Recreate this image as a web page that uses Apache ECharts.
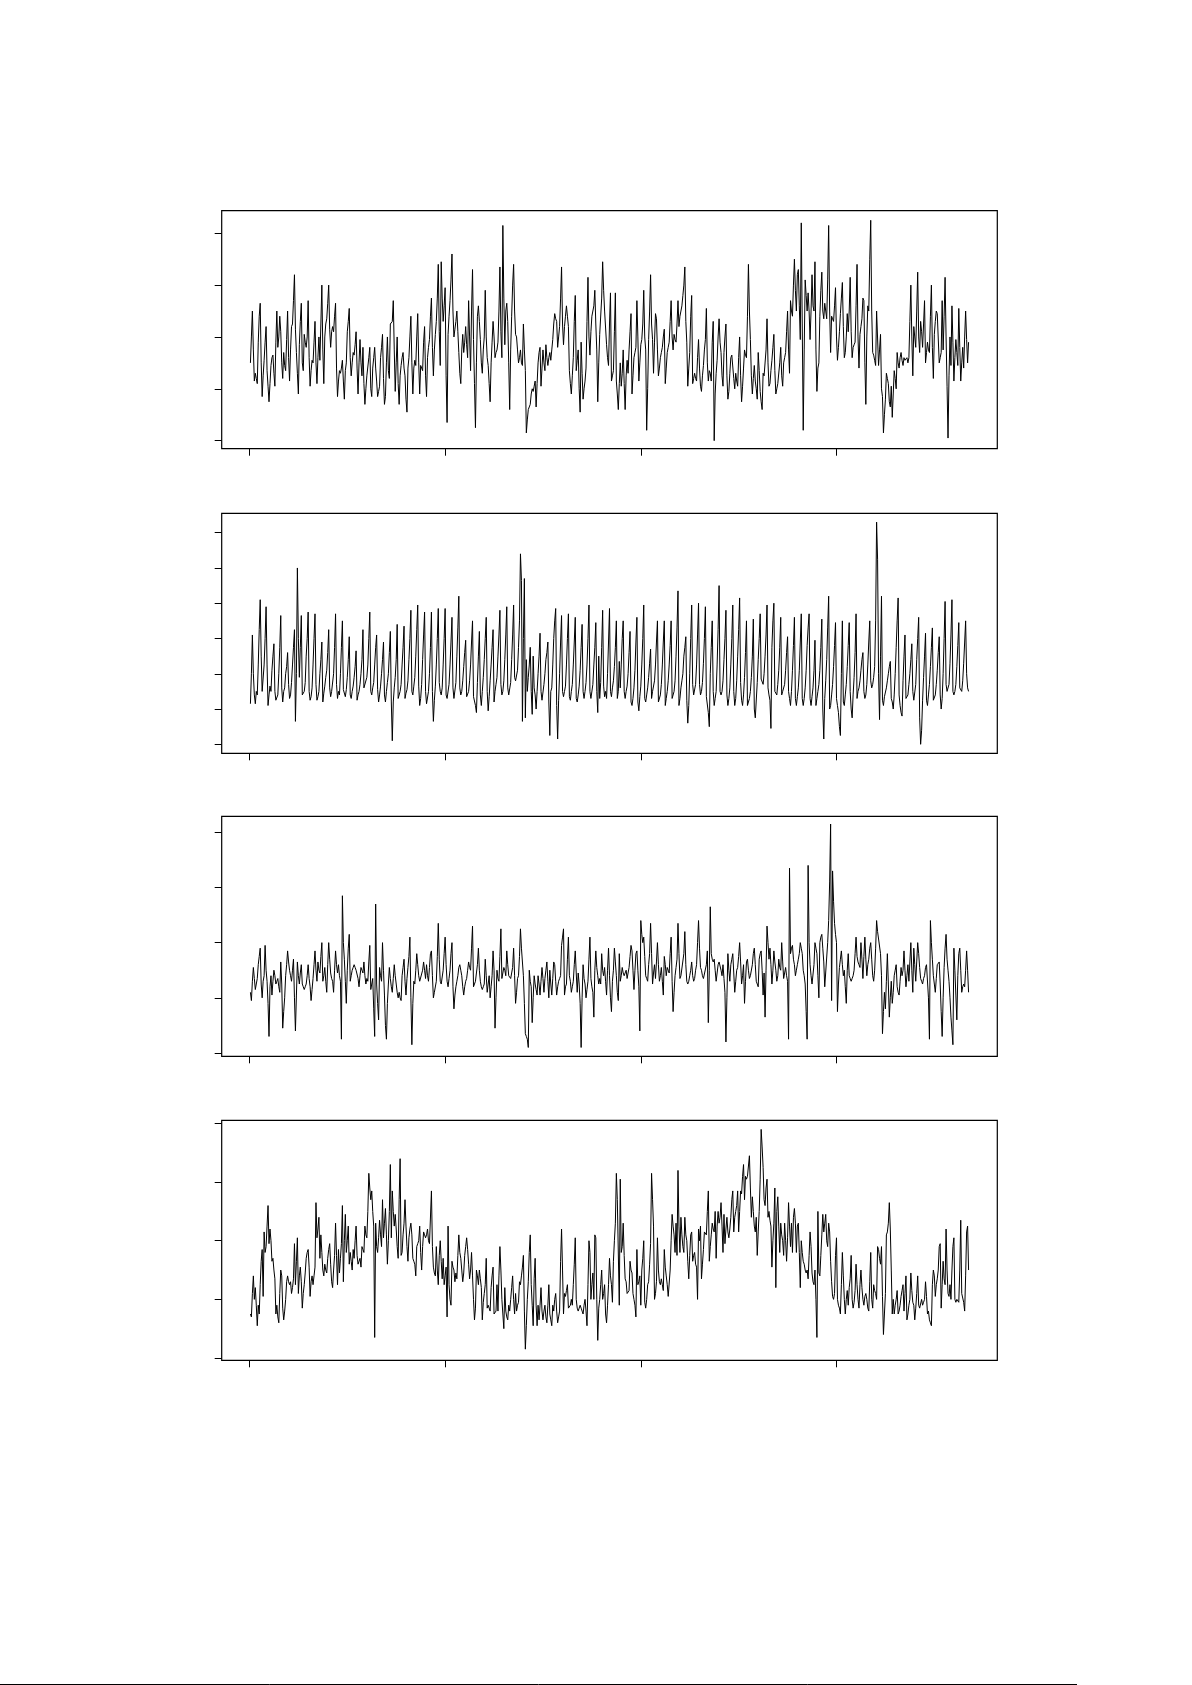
<!DOCTYPE html>
<html>
<head>
<meta charset="utf-8">
<script src="https://cdn.jsdelivr.net/npm/echarts@6.0.0/dist/echarts.min.js"></script>
<style>
html,body{margin:0;padding:0;background:#fff;}
#chart{width:1192px;height:1685px;}
</style>
</head>
<body>
<div id="chart"></div>
<script>
// x: day index 1..735, ticks (unlabelled) at 0,200,400,600
const xTicks = [0, 200, 400, 600];
const ticks1 = [20, 40, 60, 80, 100];
const ticks2 = [0, 20, 40, 60, 80, 100, 120];
const ticks3 = [0, 20, 40, 60, 80];
const ticks4 = [0, 20, 40, 60, 80];

const series1 = [
50,60,70,55,43,46,44,42,58,68, 73,50,37,45,51,58,64,47,41,35, 42,49,52,53,46,41,58,70,56,60,
68,62,50,44,54,49,47,59,70,52, 43,55,64,65,74,84,63,54,46,38, 57,66,73,50,47,61,58,56,60,74,
52,41,47,51,50,58,66,50,42,52, 60,51,65,80,55,42,60,65,67,73, 80,63,56,62,64,62,68,73,48,37,
43,47,46,48,51,43,36,47,50,62, 66,71,52,45,50,54,53,57,62,48, 38,50,59,50,45,56,42,34,40,45,
45,52,56,40,37,48,52,56,48,43, 37,39,41,52,56,61,44,34,37,50, 60,47,44,65,65,66,74,55,39,50,
60,42,34,45,49,52,54,48,45,36, 31,48,52,60,68,50,38,48,51,49, 60,69,50,38,49,48,47,58,64,45,
37,52,56,59,68,75,56,45,55,61, 66,75,88,62,49,89,75,66,72,79, 45,27,61,68,74,82,92,70,60,63,
66,70,62,54,46,42,55,61,54,58, 64,57,52,74,60,47,70,86,59,42, 25,50,68,72,66,59,50,46,55,60,
78,60,52,49,42,35,50,58,66,60, 52,54,55,58,70,87,62,52,103,75, 57,70,73,66,50,32,55,68,80,88,
70,61,60,55,50,52,55,50,49,65, 55,47,23,28,32,33,34,38,40,39, 41,43,33,42,50,54,56,41,48,55,
50,47,57,52,49,52,54,51,55,59, 65,69,67,66,56,60,64,75,87,65, 57,64,68,72,68,64,47,42,38,45,
52,66,76,47,51,55,40,31,58,46, 36,40,43,48,66,83,60,53,62,68, 68,72,78,65,55,35,50,61,61,75,
89,78,70,70,57,52,49,65,77,43, 45,47,62,77,43,38,32,42,50,41, 46,55,42,32,45,51,46,55,62,69,
38,45,52,54,56,74,60,43,50,57, 59,65,78,60,55,24,40,59,70,84, 65,59,46,58,69,67,55,45,48,52,
54,56,60,63,42,48,54,56,58,66, 74,60,55,61,59,58,65,74,64,68, 70,72,76,80,87,66,58,41,48,54,
68,76,42,44,46,44,43,52,59,48, 41,39,45,49,55,59,71,50,43,47, 46,43,58,66,20,38,46,51,60,67,
58,54,45,41,54,60,65,45,36,39, 46,52,53,53,44,40,46,43,41,52, 60,45,35,41,48,55,53,52,68,88,
70,59,45,38,44,49,43,40,36,54, 47,39,35,32,46,45,45,55,67,50, 41,42,47,51,56,61,47,38,40,42,
42,50,56,45,41,50,52,54,62,70, 55,46,74,70,68,80,90,78,70,84, 86,72,59,104,65,24,55,82,76,70,
77,70,59,70,84,72,70,89,55,39, 48,50,68,78,85,70,67,73,70,67, 82,103,70,54,68,67,66,72,79,60,
51,56,62,69,75,81,64,52,54,60, 69,62,70,83,62,52,56,57,58,72, 88,60,48,61,64,67,75,74,50,34,
60,72,70,90,105,70,54,53,51,49, 70,70,49,55,61,40,37,23,30,36, 46,44,42,35,33,41,29,38,47,44,
40,54,50,48,52,54,51,49,52,51, 51,52,50,52,66,80,60,45,64,60, 56,70,85,60,54,66,62,56,65,74,
50,54,58,55,54,68,80,56,44,61, 66,70,69,69,50,52,54,74,55,68, 83,60,41,21,45,60,49,72,58,43,
52,59,54,49,71,56,43,50,56,48, 60,70,59,50,58
];

const series2 = [
23,40,62,40,28,23,30,28,45,65, 82,50,30,29,45,60,78,45,22,28, 33,30,42,50,57,30,25,25,28,40,
55,73,32,24,30,32,40,44,52,34, 26,28,35,45,55,65,13,40,100,60, 38,55,73,28,27,30,35,50,60,75,
30,25,27,32,45,60,74,34,25,27, 30,40,48,58,24,29,33,38,42,52, 65,32,27,30,31,40,55,74,34,26,
30,28,40,55,70,31,30,27,31,38, 48,61,28,26,30,33,38,44,53,25, 28,30,34,40,48,65,32,31,33,38,
45,60,75,30,28,32,35,45,55,62, 31,24,28,33,40,48,58,28,24,30, 35,40,52,64,24,2,24,32,38,48,
68,26,27,30,34,45,55,67,26,29, 31,36,48,60,76,30,28,33,38,50, 65,79,33,22,26,34,48,62,75,30,
23,24,30,40,55,75,30,13,25,33, 45,60,77,35,30,28,32,45,60,77, 28,26,27,34,45,58,72,32,26,27,
35,50,66,84,32,28,30,36,44,52, 59,27,26,30,36,45,58,70,27,26, 22,18,35,50,64,28,22,30,38,48,
60,72,30,19,27,36,45,55,65,24, 30,34,38,50,62,76,34,28,30,36, 48,62,78,32,28,29,35,48,62,79,
38,36,35,42,55,70,108,93,13,60, 94,15,48,30,38,45,55,30,17,50, 32,28,20,30,40,50,63,30,25,26,
34,40,48,52,58,24,5,30,32,45, 60,70,77,22,3,25,40,58,73,30, 27,30,33,45,60,74,27,25,30,34,
45,58,72,26,24,28,33,42,55,68, 30,26,30,35,45,60,79,30,26,27, 34,45,55,69,30,18,50,26,35,55,
76,33,27,30,26,40,58,77,30,27, 32,36,44,55,70,26,30,47,32,45, 60,70,30,26,30,33,40,52,64,24,
22,26,32,42,58,72,24,19,27,33, 45,60,79,26,24,28,32,38,46,54, 26,30,31,36,45,58,70,24,25,28,
34,45,58,70,22,26,30,36,45,56, 70,26,27,30,36,50,66,87,22,26, 32,36,40,50,55,61,25,12,22,40,
60,79,34,28,27,34,45,62,80,34, 28,30,35,46,60,78,27,28,18,10, 40,55,70,30,22,26,30,45,65,90,
30,28,30,36,48,60,76,28,22,26, 32,45,60,79,30,22,26,36,50,65, 83,35,25,22,28,38,52,70,22,22,
26,30,38,50,71,20,15,14,35,48, 60,74,37,36,34,40,50,62,79,32, 28,25,9,55,70,80,30,29,28,34,
42,55,72,28,30,29,34,42,52,61, 30,26,22,30,42,56,72,26,22,27, 32,42,58,74,26,22,26,32,42,56,
66,74,26,22,27,32,42,59,22,26, 30,34,42,55,71,20,3,26,36,48, 66,84,20,22,28,34,44,56,69,26,
22,18,10,5,40,70,24,22,28,34, 44,56,69,30,20,15,28,38,52,74, 26,30,32,36,42,48,52,30,26,28,
34,45,58,70,36,32,34,38,44,70, 126,105,40,14,50,84,25,22,27,28, 32,36,40,44,47,26,24,20,28,40,
55,70,83,28,22,18,16,36,50,62, 26,25,28,34,40,48,57,30,25,26, 34,48,60,72,15,0,8,25,38,50,
63,25,22,28,34,44,55,66,25,26, 28,34,42,52,61,28,20,26,40,60, 81,34,30,30,34,46,62,82,30,28,
30,34,44,56,69,32,32,30,36,46, 58,70,40,32,30
];

const series3 = [
22,19,26,31,27,23,25,27,32,35, 38,25,20,26,28,39,30,26,18,6, 24,28,21,26,30,28,25,26,27,24,
22,33,25,9,15,20,28,32,37,33, 30,28,26,30,34,20,8,21,33,28, 25,29,32,25,24,23,24,25,28,32,
27,24,19,23,27,32,37,30,26,33, 30,29,35,40,26,28,31,26,22,32, 40,34,29,27,26,22,30,37,32,29,
32,28,26,5,57,40,34,26,18,30, 38,43,26,28,30,31,32,31,30,30, 27,24,28,31,30,29,33,28,25,27,
26,33,39,23,25,27,16,6,54,25, 18,12,31,28,26,40,30,21,10,5, 18,25,31,27,24,22,27,32,28,25,
22,20,22,20,19,28,31,34,26,21, 27,31,35,42,20,3,18,26,25,30, 36,32,28,26,26,26,30,33,30,27,
32,28,26,31,36,37,28,20,22,22, 26,35,47,34,26,25,25,30,36,42, 32,26,24,27,30,36,40,24,16,21,
24,26,28,31,32,30,28,24,21,24, 26,27,30,33,31,30,38,46,24,25, 26,29,32,38,30,26,24,23,24,25,
34,28,22,25,28,20,24,28,37,30, 9,20,30,27,26,35,45,27,29,31, 30,28,37,32,28,28,27,29,31,38,
28,18,22,27,28,35,45,38,38,28, 18,7,6,5,2,30,26,24,11,20, 28,25,23,21,28,25,21,26,31,27,
22,27,30,33,26,20,30,25,21,27, 33,32,26,21,24,26,27,28,39,42, 45,21,24,25,34,42,28,26,22,24,
26,32,37,29,22,29,25,18,2,20, 32,27,25,20,23,26,34,42,27,24, 22,13,30,37,31,28,25,27,25,36,
30,28,31,26,21,30,38,28,20,15, 26,30,38,33,28,22,19,36,26,28, 31,29,28,29,30,27,29,31,35,39,
37,30,23,30,36,37,30,24,8,48, 43,40,42,35,28,27,26,32,36,47, 36,25,29,32,27,33,40,32,26,28,
31,26,21,35,32,28,31,30,29,36, 42,26,15,22,28,31,34,47,36,27, 28,28,28,36,44,32,26,25,26,28,
30,33,28,26,27,30,32,40,48,38, 31,30,28,27,27,27,32,37,11,30, 53,36,34,33,34,30,26,29,32,33,
33,30,28,32,27,22,4,20,36,30, 26,32,34,36,29,22,26,30,31,35, 40,33,25,28,32,18,26,33,34,30,
27,28,28,32,36,38,32,26,25,24, 34,36,37,30,21,29,13,30,46,40, 34,38,32,25,30,37,33,30,26,28,
34,31,30,40,33,27,29,31,28,26, 5,67,36,38,39,34,32,28,30,32, 34,36,40,38,36,30,28,25,15,5,
68,40,32,28,25,25,32,40,38,36, 28,20,40,42,43,38,33,24,24,24, 40,48,62,83,19,66,55,47,43,40,
15,25,31,34,37,32,28,30,24,18, 30,36,28,27,26,27,28,30,36,42, 35,33,32,31,40,34,27,35,42,34,
28,32,34,38,40,34,28,26,30,38, 48,44,44,44,36,28,7,15,22,16, 26,36,25,13,20,26,18,22,28,30,
32,24,22,21,26,31,28,30,37,30, 24,28,32,26,33,40,30,22,38,32, 26,33,40,36,31,27,26,25,27,28,
31,32,32,20,5,48,40,34,28,25, 22,27,32,32,33,25,15,6,20,31, 38,43,34,30,26,20,13,8,3,38,
30,21,12,28,36,38,30,22,24,25, 24,30,37,30,22
];

const series4 = [
15,14,22,28,20,24,18,11,18,15, 25,33,37,21,43,36,38,45,52,39, 44,40,33,34,30,27,15,18,14,12,
22,30,28,17,13,16,20,26,28,26, 25,26,22,24,27,39,25,33,41,22, 28,31,26,17,22,25,29,34,36,37,
31,21,26,28,25,28,31,53,41,44, 48,34,42,36,30,28,32,30,29,34, 37,39,32,26,24,30,35,46,35,25,
37,29,34,39,52,26,40,49,36,40, 45,32,36,33,30,37,34,40,45,35, 32,33,34,31,38,37,36,45,42,41,
50,63,58,54,57,50,45,7,46,38, 36,41,47,42,38,54,41,46,51,42, 32,40,50,66,41,57,50,45,49,44,
38,34,54,68,35,36,42,46,54,45, 38,33,41,44,46,42,34,33,32,28, 38,39,40,45,36,30,38,43,42,41,
42,44,40,39,39,57,38,31,29,28, 38,30,25,35,40,33,27,34,25,28, 31,14,45,25,20,18,33,31,30,26,
29,27,35,42,36,34,30,26,29,35, 38,41,37,32,27,30,36,28,20,13, 17,30,28,25,30,27,24,13,19,22,
25,34,17,18,17,16,24,28,31,15, 15,16,25,16,28,38,30,20,15,10, 24,16,14,13,18,16,20,24,28,20,
15,22,16,18,19,26,25,28,31,35, 16,3,11,20,26,36,42,25,18,11, 27,34,18,11,18,13,18,24,16,13,
16,18,14,12,18,25,15,13,11,18, 16,20,22,16,12,14,16,33,44,30, 15,22,21,23,25,17,17,18,20,18,
25,32,41,20,17,16,17,18,17,16, 15,18,20,16,11,25,40,36,20,25, 29,20,42,41,20,6,17,20,25,30,
20,22,25,15,12,18,25,34,28,25, 19,33,40,46,63,54,54,18,61,36, 38,46,35,27,26,22,22,23,33,30,
29,22,20,18,14,37,25,26,28,18, 30,34,40,19,17,20,25,26,32,39, 63,54,45,20,22,26,41,30,26,25,
27,25,23,37,31,28,25,21,21,30, 40,49,45,42,36,46,35,64,45,36, 48,42,38,36,48,42,40,33,27,35,
42,43,33,35,36,32,31,20,44,40, 45,27,32,37,43,43,42,50,57,33, 38,42,46,44,43,50,34,45,50,46,
48,53,45,36,49,39,44,48,43,41, 44,48,54,57,43,48,50,52,57,43, 50,57,56,62,66,54,62,61,62,62,
69,58,48,55,50,45,43,48,35,43, 50,61,78,72,65,54,52,58,61,48, 50,47,45,31,40,46,58,24,50,55,
45,36,46,42,40,35,46,40,33,41, 53,45,38,46,36,48,51,46,36,45, 46,36,24,40,36,33,32,30,29,30,
27,35,43,38,29,26,25,30,20,7, 50,29,28,35,42,49,43,46,49,40, 38,46,43,33,26,21,20,22,35,41,
20,18,17,15,25,36,28,20,15,20, 23,18,24,27,35,20,17,19,23,32, 25,20,17,25,30,24,20,18,21,22,
20,17,16,26,36,20,17,25,23,22, 20,38,37,34,32,38,21,8,15,22, 42,43,46,53,44,30,15,20,15,18,
20,23,15,16,18,21,23,25,16,22, 28,13,15,18,20,29,23,19,18,13, 17,22,28,18,17,17,20,18,19,20,
26,21,15,16,13,12,11,25,30,28, 21,25,27,30,38,39,17,25,33,27, 25,44,30,22,21,25,20,30,38,41,
20,19,20,20,19,30,47,22,22,19, 16,28,43,45,30
];

const panels = [
  { data: series1, ticks: ticks1, yMin: 16.9, yMax: 108.7, top: 210.7, height: 238 },
  { data: series2, ticks: ticks2, yMin: -5.1, yMax: 131,   top: 513.3, height: 240 },
  { data: series3, ticks: ticks3, yMin: -1.2, yMax: 85.8,  top: 816.3, height: 240 },
  { data: series4, ticks: ticks4, yMin: -0.8, yMax: 81.1,  top: 1120.3, height: 240 }
];

const N = 735;
const xMin = 1 - 0.04 * (N - 1);
const xMax = N + 0.04 * (N - 1);

const grids = [], xAxes = [], yAxes = [], seriesList = [];
panels.forEach((p, k) => {
  grids.push({
    left: 221.7, width: 775.6, top: p.top, height: p.height,
    show: true, borderColor: '#000', borderWidth: 1.2, backgroundColor: 'transparent'
  });
  xAxes.push({
    type: 'value', gridIndex: k, min: xMin, max: xMax,
    axisLine: { show: false, onZero: false },
    splitLine: { show: false },
    axisLabel: { show: false },
    axisTick: { show: true, inside: false, length: 7, customValues: xTicks,
                lineStyle: { color: '#000', width: 1 } }
  });
  yAxes.push({
    type: 'value', gridIndex: k, min: p.yMin, max: p.yMax,
    axisLine: { show: false, onZero: false },
    splitLine: { show: false },
    axisLabel: { show: false },
    axisTick: { show: true, inside: false, length: 7, customValues: p.ticks,
                lineStyle: { color: '#000', width: 1 } }
  });
  seriesList.push({
    type: 'line', xAxisIndex: k, yAxisIndex: k,
    data: p.data.map((v, i) => [i + 1, v]),
    showSymbol: false, symbol: 'none', silent: true, sampling: null,
    lineStyle: { color: '#000', width: 1 }
  });
});

const chart = echarts.init(document.getElementById('chart'), null, { renderer: 'canvas' });
chart.setOption({
  backgroundColor: '#fff',
  animation: false,
  grid: grids,
  xAxis: xAxes,
  yAxis: yAxes,
  series: seriesList,
  graphic: [{
    type: 'line', silent: true,
    shape: { x1: 0, y1: 1684.5, x2: 1077, y2: 1684.5 },
    style: { stroke: '#000', lineWidth: 1 }
  }]
});
</script>
</body>
</html>
